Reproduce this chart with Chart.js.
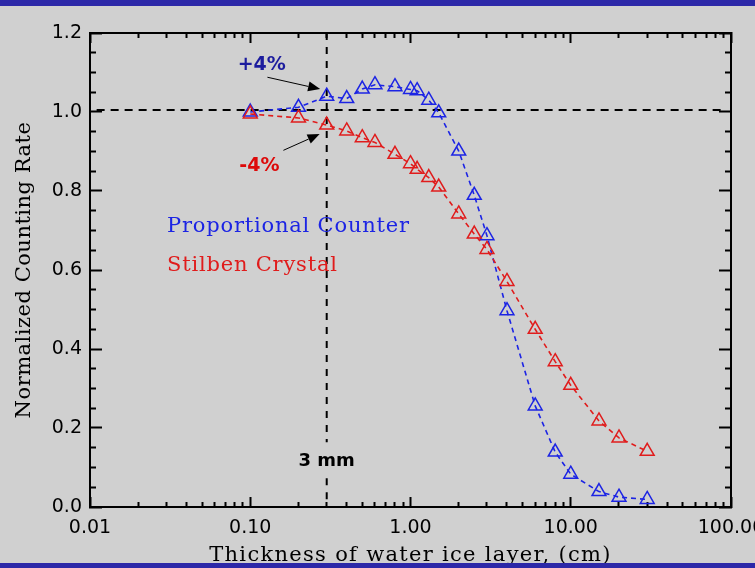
<!DOCTYPE html>
<html>
<head>
<meta charset="utf-8">
<script src="https://cdn.jsdelivr.net/npm/chart.js@4.4.1/dist/chart.umd.min.js"></script>
<style>
  html, body { margin: 0; padding: 0; background: #d0d0d0; overflow: hidden; }
  #wrap { position: relative; width: 755px; height: 568px; overflow: hidden; }
  #chart { position: absolute; left: 0; top: 0; }
  .bar { position: absolute; left: 0; width: 755px; background: #2c28a8; }
</style>
</head>
<body>
<div id="wrap">
  <canvas id="chart" width="800" height="568"></canvas>
  <div class="bar" style="top:0;height:6px"></div>
  <div class="bar" style="top:563px;height:5px"></div>
</div>
<script>
// thickness of water ice layer (cm)
const thickness = [0.1, 0.2, 0.3, 0.4, 0.5, 0.6, 0.8, 1.0, 1.1, 1.3, 1.5, 2.0, 2.5, 3.0, 4.0, 6.0, 8.0, 10, 15, 20, 30];
// normalized counting rates
const proportionalCounter = [1.000, 1.012, 1.040, 1.034, 1.058, 1.069, 1.064, 1.057, 1.054, 1.030, 0.998, 0.901, 0.789, 0.687, 0.497, 0.256, 0.139, 0.083, 0.039, 0.025, 0.019];
const stilbenCrystal = [0.995, 0.985, 0.967, 0.952, 0.935, 0.923, 0.893, 0.869, 0.855, 0.834, 0.810, 0.742, 0.691, 0.652, 0.571, 0.450, 0.368, 0.308, 0.218, 0.175, 0.141];
const seriesNames = ['Proportional Counter', 'Stilben Crystal'];

// axes
const xTickValues = [0.01, 0.1, 1, 10, 100];
const xTickLabels = ['0.01', '0.10', '1.00', '10.00', '100.00'];
const yTickValues = [0.0, 0.2, 0.4, 0.6, 0.8, 1.0, 1.2];
const yTickLabels = ['0.0', '0.2', '0.4', '0.6', '0.8', '1.0', '1.2'];

// reference marks
const refLevel = 1.005;
const refThickness = 0.3;
const refLabel = '3 mm';
const deltaLabels = ['+4%', '-4%'];

const BLUE = '#1c24e4';
const RED = '#e01c1c';

// minor ticks: 1..9 per decade on x, every 0.05 on y
const xTicks = [];
xTickValues.forEach((v, i) => {
    if (i === xTickValues.length - 1) { xTicks.push({ value: v, major: true }); return; }
    for (let k = 1; k <= 9; k++) xTicks.push({ value: v * k, major: k === 1 });
});
const yTicks = [];
for (let i = 0; i < yTickValues.length - 1; i++) {
    for (let k = 0; k < 4; k++) yTicks.push({ value: yTickValues[i] + k * 0.05, major: k === 0 });
}
yTicks.push({ value: yTickValues[yTickValues.length - 1], major: true });

function xLabel(value) {
    const i = xTickValues.findIndex(v => Math.abs(v - value) / v < 1e-6);
    return i >= 0 ? xTickLabels[i] : '';
}
function yLabel(value) {
    const i = yTickValues.findIndex(v => Math.abs(v - value) < 1e-6);
    return i >= 0 ? yTickLabels[i] : '';
}

// inward ticks; a dash keeps minor ticks short
function tickGrid(majorLen, minorLen, startsInside) {
    return {
        drawOnChartArea: false,
        drawTicks: true,
        tickLength: -majorLen,
        tickWidth: 2,
        tickColor: '#000',
        tickBorderDash: (c) => (c.tick && c.tick.major) ? [] :
            (startsInside ? [0, majorLen - minorLen, minorLen + 1, 100] : [minorLen + 1, 100])
    };
}
const border = { display: true, color: '#000', width: 2 };

function points(values) {
    return thickness.map((t, i) => ({ x: t, y: values[i] }));
}

function arrow(ctx, x0, y0, x1, y1) {
    const ang = Math.atan2(y1 - y0, x1 - x0);
    const len = 12, half = 5;
    const bx = x1 - Math.cos(ang) * len, by = y1 - Math.sin(ang) * len;
    ctx.beginPath();
    ctx.moveTo(x0, y0);
    ctx.lineTo(bx, by);
    ctx.stroke();
    ctx.beginPath();
    ctx.moveTo(x1, y1);
    ctx.lineTo(bx + Math.sin(ang) * half, by - Math.cos(ang) * half);
    ctx.lineTo(bx - Math.sin(ang) * half, by + Math.cos(ang) * half);
    ctx.closePath();
    ctx.fill();
}

// wider spacing for the serif axis titles
const titleSpacing = { x: '1.3px', y: '0.5px' };

const refPlugin = {
    id: 'refs',
    beforeDraw(chart) {
        Object.values(chart.scales).forEach(s => {
            if (s._spaced || !titleSpacing[s.id]) return;
            const orig = s.drawTitle;
            s.drawTitle = function () {
                const old = this.ctx.letterSpacing;
                this.ctx.letterSpacing = titleSpacing[this.id];
                orig.call(this);
                this.ctx.letterSpacing = old || '0px';
            };
            s._spaced = true;
        });
    },
    beforeDatasetsDraw(chart) {
        const { ctx, scales: { x, y } } = chart;
        ctx.save();
        ctx.strokeStyle = '#000';
        ctx.lineWidth = 2;
        ctx.setLineDash([8, 6]);
        ctx.beginPath();
        ctx.moveTo(x.getPixelForValue(0.011), y.getPixelForValue(refLevel));
        ctx.lineTo(x.getPixelForValue(89), y.getPixelForValue(refLevel));
        ctx.stroke();
        // vertical line with a gap for the label
        const vx = x.getPixelForValue(refThickness);
        ctx.setLineDash([7, 7]);
        ctx.beginPath();
        ctx.moveTo(vx, y.getPixelForValue(1.2));
        ctx.lineTo(vx, y.getPixelForValue(0.164));
        ctx.moveTo(vx, y.getPixelForValue(0.073));
        ctx.lineTo(vx, y.getPixelForValue(0));
        ctx.stroke();
        ctx.restore();
    },
    afterDatasetsDraw(chart) {
        const { ctx, scales: { x, y } } = chart;
        const px = v => x.getPixelForValue(v), py = v => y.getPixelForValue(v);
        ctx.save();
        ctx.setLineDash([]);
        // series names
        ctx.font = '21px "DejaVu Serif"';
        ctx.letterSpacing = '0.8px';
        ctx.textAlign = 'left';
        ctx.textBaseline = 'alphabetic';
        ctx.fillStyle = BLUE;
        ctx.fillText(seriesNames[0], 167, py(0.697));
        ctx.fillStyle = RED;
        ctx.fillText(seriesNames[1], 167, py(0.598));
        ctx.letterSpacing = '0px';
        // +4% / -4%
        ctx.font = 'bold 19px "DejaVu Sans"';
        ctx.textAlign = 'center';
        ctx.textBaseline = 'middle';
        ctx.fillStyle = '#1c1c9e';
        ctx.fillText(deltaLabels[0], px(0.118), py(1.119));
        ctx.fillStyle = '#dd0a0a';
        ctx.fillText(deltaLabels[1], px(0.114), py(0.864));
        ctx.fillStyle = '#000';
        ctx.font = 'bold 18px "DejaVu Sans"';
        ctx.fillText(refLabel, px(refThickness), py(0.116));
        // arrows
        ctx.strokeStyle = '#000';
        ctx.lineWidth = 1;
        arrow(ctx, px(0.128), py(1.088), px(0.273), py(1.058));
        arrow(ctx, px(0.161), py(0.903), px(0.271), py(0.944));
        ctx.restore();
    }
};

Chart.defaults.font.family = '"DejaVu Sans"';
Chart.defaults.color = '#000';

const config = {
    type: 'scatter',
    data: {
        datasets: [{
            label: seriesNames[0],
            data: points(proportionalCounter),
            showLine: true,
            borderColor: BLUE,
            borderWidth: 1.6,
            borderDash: [5, 4],
            pointStyle: 'triangle',
            pointRadius: 8,
            pointBorderWidth: 1.5,
            pointBorderColor: BLUE,
            pointBackgroundColor: 'rgba(0,0,0,0)',
            order: 2
        }, {
            label: seriesNames[1],
            data: points(stilbenCrystal),
            showLine: true,
            borderColor: RED,
            borderWidth: 1.6,
            borderDash: [5, 4],
            pointStyle: 'triangle',
            pointRadius: 8,
            pointBorderWidth: 1.5,
            pointBorderColor: RED,
            pointBackgroundColor: 'rgba(0,0,0,0)',
            order: 1
        }]
    },
    options: {
        responsive: false,
        animation: false,
        devicePixelRatio: 1,
        layout: { padding: 0 },
        plugins: { legend: { display: false }, tooltip: { enabled: false } },
        scales: {
            x: {
                type: 'logarithmic', position: 'bottom', min: 0.01, max: 100,
                afterBuildTicks: s => { s.ticks = xTicks.map(t => ({ ...t })); },
                afterFit: s => { s.height = 61; },
                grid: tickGrid(10, 5, false),
                border: border,
                ticks: { autoSkip: false, maxRotation: 0, minRotation: 0, padding: 20,
                    font: { size: 19 }, callback: v => xLabel(v) },
                title: { display: true, text: 'Thickness of water ice layer, (cm)',
                    font: { family: '"DejaVu Serif"', size: 21, lineHeight: 1 },
                    padding: { top: 0, bottom: 2 } }
            },
            x2: {
                type: 'logarithmic', position: 'top', min: 0.01, max: 100,
                afterBuildTicks: s => { s.ticks = xTicks.map(t => ({ ...t })); },
                afterFit: s => { s.height = 33; },
                grid: tickGrid(10, 5, true),
                border: border,
                ticks: { display: false }
            },
            y: {
                type: 'linear', position: 'left', min: 0, max: 1.2,
                afterBuildTicks: s => { s.ticks = yTicks.map(t => ({ ...t })); },
                afterFit: s => { s.width = 90; },
                grid: tickGrid(12, 6, true),
                border: border,
                ticks: { autoSkip: false, padding: 20, font: { size: 19 }, callback: v => yLabel(v) },
                title: { display: true, text: 'Normalized Counting Rate',
                    font: { family: '"DejaVu Serif"', size: 21, lineHeight: 1 },
                    padding: { top: 14, bottom: 0 } }
            },
            y2: {
                type: 'linear', position: 'right', min: 0, max: 1.2,
                afterBuildTicks: s => { s.ticks = yTicks.map(t => ({ ...t })); },
                afterFit: s => { s.width = 69; },
                grid: tickGrid(12, 6, false),
                border: border,
                ticks: { display: false }
            }
        }
    },
    plugins: [refPlugin]
};

const chart = new Chart(document.getElementById('chart').getContext('2d'), config);
</script>
</body>
</html>
